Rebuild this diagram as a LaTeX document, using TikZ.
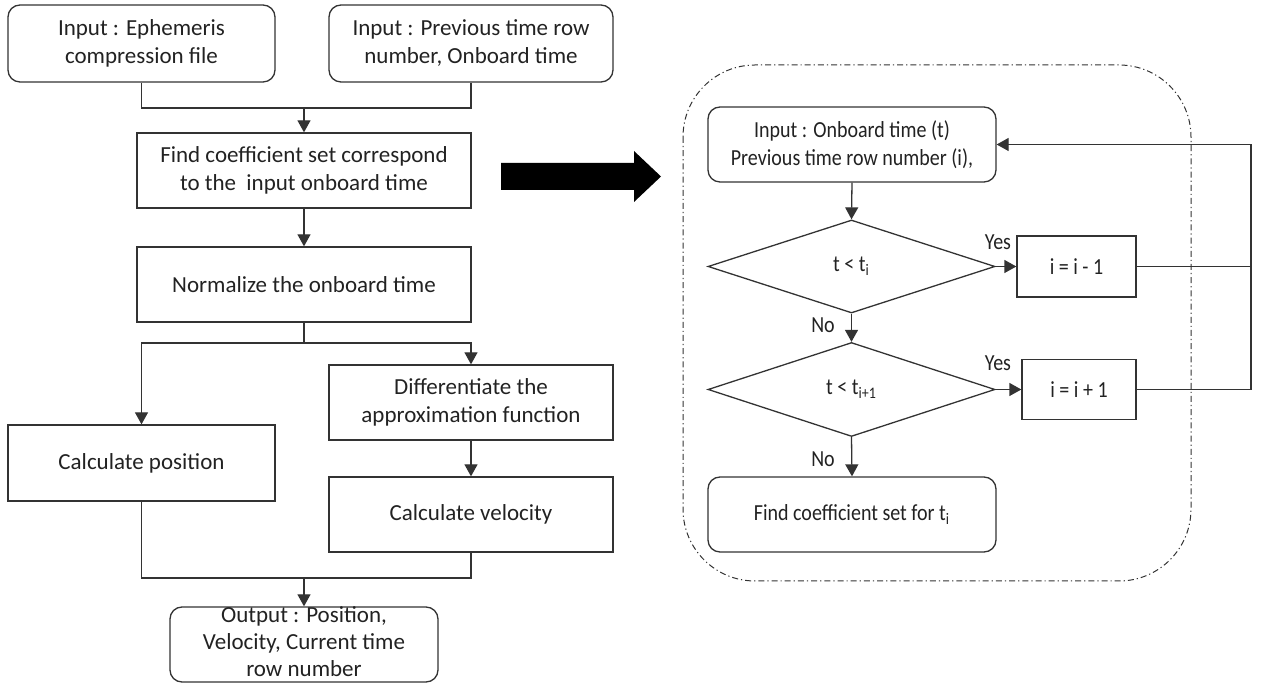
\documentclass[tikz,border=0pt]{standalone}
\usepackage{fontspec}
\setmainfont{Carlito}
\newfontfamily\cond[FakeStretch=0.87]{Carlito}
\usetikzlibrary{shapes.geometric,arrows.meta}
\definecolor{ln}{HTML}{333333}
\definecolor{tx}{HTML}{222222}
\tikzset{
  base/.style={draw=ln, line width=0.65pt, text=tx, align=center, inner sep=2pt,
    font=\fontsize{11.5}{14}\selectfont},
  rbox/.style={base, rectangle, rounded corners=6pt},
  sbox/.style={base, rectangle},
  cbase/.style={draw=ln, line width=0.65pt, text=tx, align=center, inner sep=1pt,
    font=\cond\fontsize{11.5}{14}\selectfont},
  crbox/.style={cbase, rectangle, rounded corners=6pt},
  csbox/.style={cbase, rectangle},
  dia/.style={cbase, diamond, inner sep=0pt},
  lab/.style={text=tx, font=\cond\fontsize{11.5}{14}\selectfont, inner sep=0pt},
  conn/.style={draw=ln, line width=0.65pt},
  arr/.style={conn, -{Triangle[length=6pt,width=6.5pt]}},
}
\begin{document}
\begin{tikzpicture}[x=0.5pt,y=-0.5pt]
\useasboundingbox (0,0) rectangle (1276,683);
% left flow
\node[rbox, minimum width=133.5pt, minimum height=38.5pt] (A) at (141.5,43.5) {Input : Ephemeris\\compression file};
\node[rbox, minimum width=142pt, minimum height=38.5pt] (B) at (471,43.5) {Input : Previous time row\\number, Onboard time};
\node[sbox, minimum width=167pt, minimum height=37.5pt] (C) at (304,170.5) {Find coefficient set correspond\\to the\ \ input onboard time};
\node[sbox, minimum width=167pt, minimum height=37.5pt] (D) at (304,284.5) {Normalize the onboard time};
\node[sbox, minimum width=133.5pt, minimum height=38pt] (E) at (141.5,463) {Calculate position};
\node[sbox, minimum width=142pt, minimum height=37.5pt] (F) at (471,402.5) {Differentiate the\\approximation function};
\node[sbox, minimum width=142pt, minimum height=37.5pt] (G) at (471,514.5) {Calculate velocity};
\node[rbox, minimum width=134pt, minimum height=37.5pt,
  label={[text=tx, align=center, font=\fontsize{11.5}{13.6}\selectfont, inner sep=0pt, yshift=1.5pt]center:Output : Position,\\Velocity, Current time\\row number}] (H) at (304,644.5) {};
\coordinate (j1) at (304,108);
\coordinate (j2) at (304,343);
\coordinate (j3) at (304,578);
\draw[conn] (A.south) |- (j1);
\draw[conn] (B.south) |- (j1);
\draw[arr] (j1) -- (C.north);
\draw[arr] (C.south) -- (D.north);
\draw[conn] (D.south) -- (j2);
\draw[arr] (j2) -| (E.north);
\draw[arr] (j2) -| (F.north);
\draw[arr] (F.south) -- (G.north);
\draw[conn] (E.south) |- (j3);
\draw[conn] (G.south) |- (j3);
\draw[arr] (j3) -- (H.north);
% big arrow
\fill[black] (501,163) -- (634,163) -- (634,151) -- (661,176.5) -- (634,202) -- (634,190) -- (501,190) -- cycle;
% right panel
\draw[draw=ln, line width=0.5pt, dash pattern=on 3pt off 1.5pt on 0.6pt off 1.5pt, rounded corners=36pt] (683,65) rectangle (1191,581);
\node[crbox, minimum width=144pt, minimum height=37.5pt] (R1) at (852,144.5) {Input : Onboard time (t)\\Previous time row number (i),};
\node[dia, minimum width=143.5pt, minimum height=46.5pt] (D1) at (851.5,266.5) {t < t\textsubscript{i}};
\node[csbox, minimum width=59.5pt, minimum height=30.5pt] (P1) at (1076.5,266.5) {i = i - 1};
\node[dia, minimum width=143.5pt, minimum height=47pt] (D2) at (851.5,389.5) {t < t\textsubscript{i+1}};
\node[csbox, minimum width=57pt, minimum height=30pt] (P2) at (1079,389.5) {i = i + 1};
\node[crbox, minimum width=144pt, minimum height=37.5pt] (R2) at (852,514.5) {Find coefficient set for t\textsubscript{i}};
\node[lab] (y1) at (998,242) {Yes};
\node[lab] (y2) at (998,363) {Yes};
\node[lab] (n1) at (823,325) {No};
\node[lab] (n2) at (823,459) {No};
\coordinate (lt) at (1251,144.5);
\draw[arr] (R1.south) -- (D1.north);
\draw[arr] (D1.east) -- (P1.west);
\draw[arr] (D1.south) -- (D2.north);
\draw[arr] (D2.east) -- (P2.west);
\draw[arr] (D2.south) -- (R2.north);
\draw[conn] (P1.east) -- (P1.east -| lt);
\draw[conn] (P2.east) -| (lt);
\draw[arr] (lt) -- (R1.east);
\end{tikzpicture}
\end{document}
